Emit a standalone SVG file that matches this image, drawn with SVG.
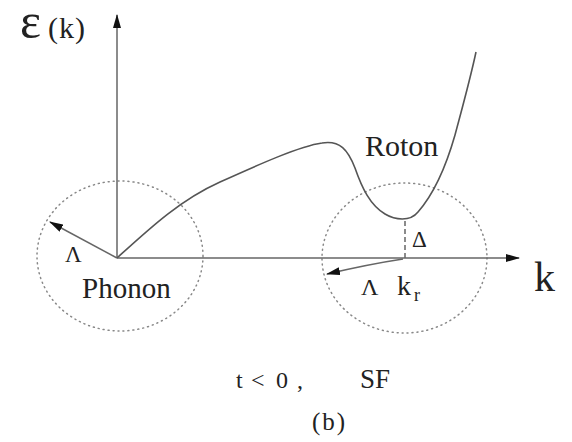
<svg xmlns="http://www.w3.org/2000/svg" width="572" height="442" viewBox="0 0 572 442">
<defs>
<marker id="ah" markerWidth="14" markerHeight="8" refX="13" refY="4" orient="auto" markerUnits="userSpaceOnUse">
<path d="M0,0 L14,4 L0,8 Z" fill="#111"/>
</marker>
</defs>
<rect width="572" height="442" fill="#fff"/>
<g id="circles" stroke="#888" stroke-width="1.5" fill="none" stroke-dasharray="1 4" stroke-linecap="round">
<ellipse id="phonon-circle" cx="120" cy="256" rx="83" ry="75"/>
<ellipse id="roton-circle" cx="404.5" cy="258" rx="82.5" ry="75"/>
</g>
<g id="connectors" stroke="#666" stroke-width="1.5" fill="none">
<line x1="117" y1="258" x2="117" y2="15" marker-end="url(#ah)"/>
<line x1="117" y1="258" x2="519" y2="258" marker-end="url(#ah)"/>
<line x1="117" y1="258" x2="50" y2="222" marker-end="url(#ah)"/>
<path d="M403,259 Q370,264 327,274" marker-end="url(#ah)"/>
<line x1="405" y1="221" x2="405" y2="258" stroke-dasharray="5 3"/>
</g>
<g id="curve">
<path stroke="#555" stroke-width="1.6" fill="none" d="M117,258 C150,228 180,200 220,182 C260,164 300,146 322,143 C340,140 348,150 355,168 C362,188 370,205 385,214 C395,220 410,222 418,212 C432,196 445,170 455,135 C463,105 470,80 476,52"/>
</g>
<g id="labels" fill="#222" font-family="Liberation Serif">
<text x="20" y="38" font-size="50" font-family="Liberation Serif">ε</text>
<text x="48" y="38" font-size="30" letter-spacing="1" font-family="Liberation Serif">(k)</text>
<text x="365" y="156" font-size="30" font-family="Liberation Serif">Roton</text>
<text x="65" y="262" font-size="23" font-family="Liberation Serif">Λ</text>
<text x="82" y="298" font-size="29" font-family="Liberation Serif">Phonon</text>
<text x="412" y="247" font-size="23" font-family="Liberation Serif">Δ</text>
<text x="361" y="295" font-size="24" font-family="Liberation Serif">Λ</text>
<text x="397" y="295" font-size="28" font-family="Liberation Serif">k</text>
<text x="414" y="301" font-size="18" font-family="Liberation Serif">r</text>
<text x="534" y="291" font-size="42" font-family="Liberation Serif">k</text>
<text y="388" font-size="24" font-family="Liberation Serif"><tspan x="236">t</tspan><tspan x="251">&lt;</tspan><tspan x="276">0</tspan><tspan x="297">,</tspan></text>
<text x="360" y="388" font-size="27" font-family="Liberation Serif">SF</text>
<text x="312" y="430" font-size="25" letter-spacing="2" font-family="Liberation Serif">(b)</text>
</g>
</svg>
